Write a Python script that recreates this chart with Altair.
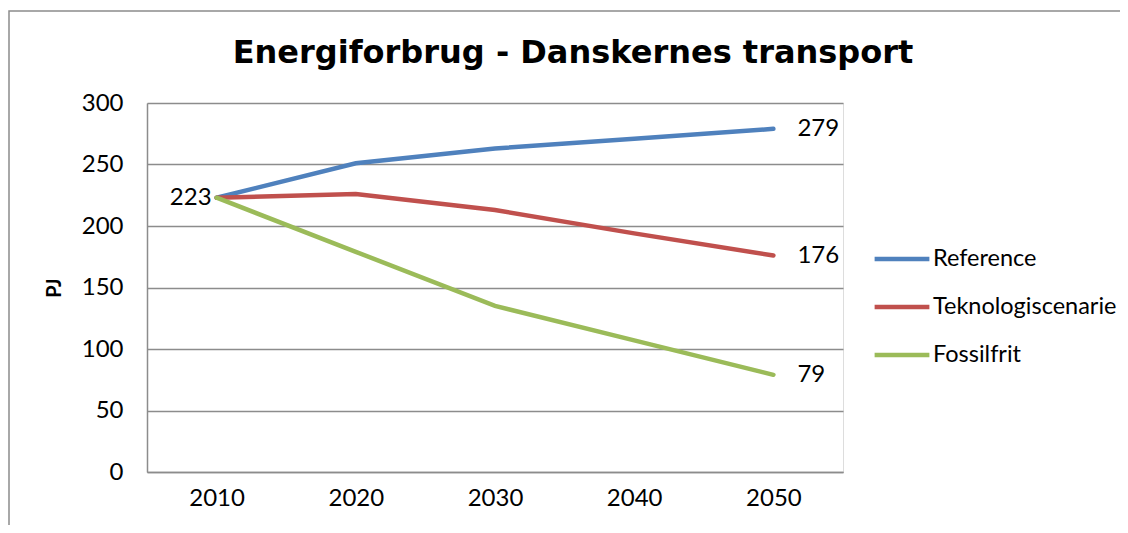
import altair as alt
import pandas as pd

years = ["2010", "2020", "2030", "2040", "2050"]
reference = [223, 251, 263, 271, 279]
teknologi = [223, 226, 213, 194, 176]
fossilfrit = [223, 179, 135, 107, 79]
series_names = ["Reference", "Teknologiscenarie", "Fossilfrit"]
colors = ["#4F81BD", "#C0504D", "#9BBB59"]
title_text = "Energiforbrug - Danskernes transport"

rows = []
for name, vals in zip(series_names, [reference, teknologi, fossilfrit]):
    for y, v in zip(years, vals):
        rows.append({"year": y, "value": v, "series": name})
df = pd.DataFrame(rows)

end_labels = pd.DataFrame({
    "year": ["2050"] * 3,
    "value": [reference[-1], teknologi[-1], fossilfrit[-1]],
})
start_label = pd.DataFrame({"year": ["2010"], "value": [teknologi[0]]})

FONT = "Lato"
x_enc = alt.X("year:N", scale=alt.Scale(type="point", padding=0.5), sort=years,
              axis=alt.Axis(title=None, labelAngle=0, labelFontSize=24, labelFont=FONT,
                            labelColor="black", labelPadding=14, ticks=False,
                            domainColor="#8c8c8c", domainWidth=1.5, grid=False))
y_enc = alt.Y("value:Q", scale=alt.Scale(domain=[0, 300], nice=False),
              axis=alt.Axis(title="PJ", values=[0, 50, 100, 150, 200, 250, 300],
                            labelFontSize=24, labelFont=FONT, labelColor="black",
                            labelPadding=24, ticks=False, domainColor="#8c8c8c", domainWidth=1.5,
                            gridColor="#8c8c8c", gridWidth=1.5,
                            titleFont=FONT, titleFontSize=20, titleFontWeight="bold",
                            titleColor="black", titlePadding=17))

lines = alt.Chart(df).mark_line(strokeWidth=4.5, strokeCap="round").encode(
    x=x_enc, y=y_enc,
    color=alt.Color("series:N", sort=series_names,
                    scale=alt.Scale(domain=series_names, range=colors),
                    legend=alt.Legend(title=None, orient="none", legendX=725, legendY=126,
                                      symbolType="stroke", symbolStrokeWidth=4.5,
                                      symbolSize=3000, labelFontSize=23.5, labelFont=FONT,
                                      labelColor="black", rowPadding=6, labelOffset=1,
                                      labelLimit=400)),
)

end_text = alt.Chart(end_labels).mark_text(align="left", baseline="middle", dx=24,
                                           fontSize=24, font=FONT, color="black").encode(
    x=alt.X("year:N", sort=years), y="value:Q", text="value:Q")
start_text = alt.Chart(start_label).mark_text(align="right", baseline="middle", dx=-5,
                                              fontSize=24, font=FONT, color="black").encode(
    x=alt.X("year:N", sort=years), y="value:Q", text="value:Q")

border = alt.Chart(pd.DataFrame({"a": [0]})).mark_rect(
    fill=None, stroke="#8c8c8c", strokeWidth=1.5).encode(
    x=alt.value(-138), x2=alt.value(1200), y=alt.value(-92), y2=alt.value(600))

title = alt.Chart(pd.DataFrame({"t": [title_text]})).mark_text(
    align="center", baseline="alphabetic", font="DejaVu Sans", fontSize=32, fontWeight="bold",
    color="black").encode(x=alt.value(426), y=alt.value(-40), text="t:N")

chart = alt.layer(border, title, lines, end_text, start_text).properties(
    width=696, height=369,
    autosize=alt.AutoSizeParams(type="none"),
    padding={"left": 139, "top": 95, "right": 277, "bottom": 53},
).configure_view(stroke=None).configure(background="white")

chart.save("out.html", embed_options={"renderer": "svg", "actions": False})
